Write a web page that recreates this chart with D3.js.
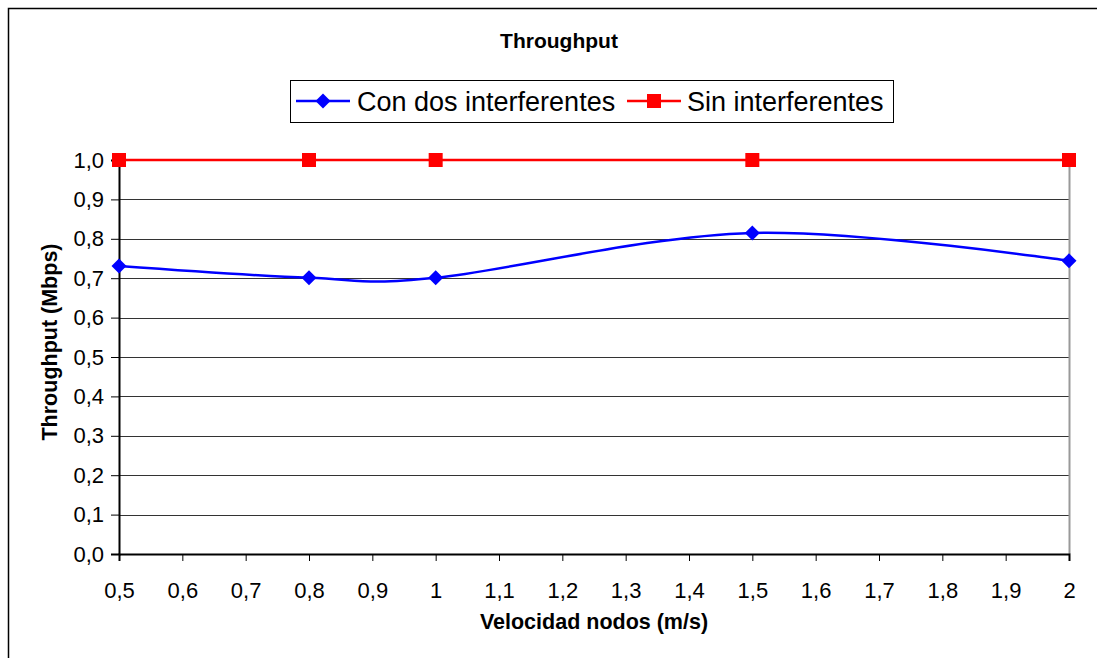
<!DOCTYPE html>
<html>
<head>
<meta charset="utf-8">
<script src="https://cdn.jsdelivr.net/npm/d3@7"></script>
<style>
  html, body { margin: 0; padding: 0; background: #fff; }
  svg { display: block; font-family: Arial, "Liberation Sans", sans-serif; }
</style>
</head>
<body>
<svg id="chart" width="1097" height="658"></svg>
<script>
// Node speed (m/s) and measured throughput (Mbps)
const speeds = [0.5, 0.8, 1, 1.5, 2];
const conDosInterferentes = [0.731, 0.701, 0.701, 0.815, 0.744];
const sinInterferentes = [1.0, 1.0, 1.0, 1.0, 1.0];
const xTicks = [0.5, 0.6, 0.7, 0.8, 0.9, 1, 1.1, 1.2, 1.3, 1.4, 1.5, 1.6, 1.7, 1.8, 1.9, 2];
const yTicks = [0, 0.1, 0.2, 0.3, 0.4, 0.5, 0.6, 0.7, 0.8, 0.9, 1.0];
const seriesNames = ["Con dos interferentes", "Sin interferentes"];

const svg = d3.select("#chart");
const fmtX = d => String(+d.toFixed(1)).replace(".", ",");
const fmtY = d => d.toFixed(1).replace(".", ",");

const plot = { left: 119, right: 1069, top: 160, bottom: 554 };
const x = d3.scaleLinear().domain([0.5, 2]).range([plot.left, plot.right]);
const y = d3.scaleLinear().domain([0, 1]).range([plot.bottom, plot.top]);

// outer chart frame
svg.append("rect")
  .attr("x", 8.5).attr("y", 8.5).attr("width", 1200).attr("height", 800)
  .attr("fill", "none").attr("stroke", "#000").attr("stroke-width", 1.5);

// title
svg.append("text")
  .attr("x", 559).attr("y", 48)
  .attr("text-anchor", "middle")
  .attr("font-size", 21).attr("font-weight", "bold")
  .text("Throughput");

// horizontal gridlines
svg.append("g").selectAll("line")
  .data(yTicks.filter(d => d > 0 && d < 1))
  .join("line")
  .attr("x1", plot.left).attr("x2", plot.right)
  .attr("y1", d => Math.round(y(d)) + 0.5).attr("y2", d => Math.round(y(d)) + 0.5)
  .attr("stroke", "#333").attr("stroke-width", 1);

// plot area frame on the right and top
svg.append("line")
  .attr("x1", plot.right + 0.5).attr("x2", plot.right + 0.5)
  .attr("y1", plot.top).attr("y2", plot.bottom)
  .attr("stroke", "#999").attr("stroke-width", 2);
svg.append("line")
  .attr("x1", plot.left).attr("x2", plot.right)
  .attr("y1", plot.top).attr("y2", plot.top)
  .attr("stroke", "#999").attr("stroke-width", 1);

// y axis
const yAxis = svg.append("g")
  .attr("transform", `translate(${plot.left},0)`)
  .call(d3.axisLeft(y).tickValues(yTicks).tickFormat(fmtY).tickSize(8).tickPadding(7));
yAxis.select(".domain").attr("stroke", "#000").attr("stroke-width", 2);
yAxis.selectAll(".tick line").attr("stroke", "#000").attr("stroke-width", 1);
yAxis.selectAll("text").attr("font-size", 22).attr("fill", "#000")
  .attr("font-family", "Arial, 'Liberation Sans', sans-serif");

// x axis
const xAxis = svg.append("g")
  .attr("transform", `translate(0,${plot.bottom})`)
  .call(d3.axisBottom(x).tickValues(xTicks).tickFormat(fmtX).tickSize(7).tickPadding(21));
xAxis.select(".domain").attr("stroke", "#000").attr("stroke-width", 2);
xAxis.selectAll(".tick line").attr("stroke", "#000").attr("stroke-width", 1);
xAxis.selectAll("text").attr("font-size", 22).attr("fill", "#000")
  .attr("font-family", "Arial, 'Liberation Sans', sans-serif");

// axis titles
svg.append("text")
  .attr("x", 594).attr("y", 629)
  .attr("text-anchor", "middle")
  .attr("font-size", 21.5).attr("font-weight", "bold")
  .text("Velocidad nodos (m/s)");
svg.append("text")
  .attr("transform", "translate(57,342) rotate(-90)")
  .attr("text-anchor", "middle")
  .attr("font-size", 21.5).attr("font-weight", "bold")
  .text("Throughput (Mbps)");

// series
const smooth = d3.line().x(d => x(d[0])).y(d => y(d[1])).curve(d3.curveCatmullRom.alpha(0));
const straight = d3.line().x(d => x(d[0])).y(d => y(d[1]));
const blueData = speeds.map((s, i) => [s, conDosInterferentes[i]]);
const redData = speeds.map((s, i) => [s, sinInterferentes[i]]);

svg.append("path").attr("d", smooth(blueData))
  .attr("fill", "none").attr("stroke", "#0000ff").attr("stroke-width", 2.5);
svg.append("path").attr("d", straight(redData))
  .attr("fill", "none").attr("stroke", "#ff0000").attr("stroke-width", 2.5);

const diamond = (cx, cy, r) => `M${cx},${cy - r}L${cx + r},${cy}L${cx},${cy + r}L${cx - r},${cy}Z`;

svg.append("g").selectAll("path")
  .data(blueData).join("path")
  .attr("d", d => diamond(x(d[0]), y(d[1]), 7.5))
  .attr("fill", "#0000ff");
svg.append("g").selectAll("rect")
  .data(redData).join("rect")
  .attr("x", d => x(d[0]) - 7).attr("y", d => y(d[1]) - 7)
  .attr("width", 14).attr("height", 14)
  .attr("fill", "#ff0000");

// legend
const lg = svg.append("g");
lg.append("rect")
  .attr("x", 290.5).attr("y", 80.5).attr("width", 603).attr("height", 42)
  .attr("fill", "#fff").attr("stroke", "#000").attr("stroke-width", 1);
lg.append("line").attr("x1", 296).attr("x2", 350).attr("y1", 101).attr("y2", 101)
  .attr("stroke", "#0000ff").attr("stroke-width", 2.5);
lg.append("path").attr("d", diamond(323, 101, 7.5)).attr("fill", "#0000ff");
lg.append("text").attr("x", 357).attr("y", 111).attr("font-size", 27).text(seriesNames[0]);
lg.append("line").attr("x1", 627).attr("x2", 681).attr("y1", 101).attr("y2", 101)
  .attr("stroke", "#ff0000").attr("stroke-width", 2.5);
lg.append("rect").attr("x", 647).attr("y", 94).attr("width", 14).attr("height", 14).attr("fill", "#ff0000");
lg.append("text").attr("x", 687).attr("y", 111).attr("font-size", 27).text(seriesNames[1]);
</script>
</body>
</html>
